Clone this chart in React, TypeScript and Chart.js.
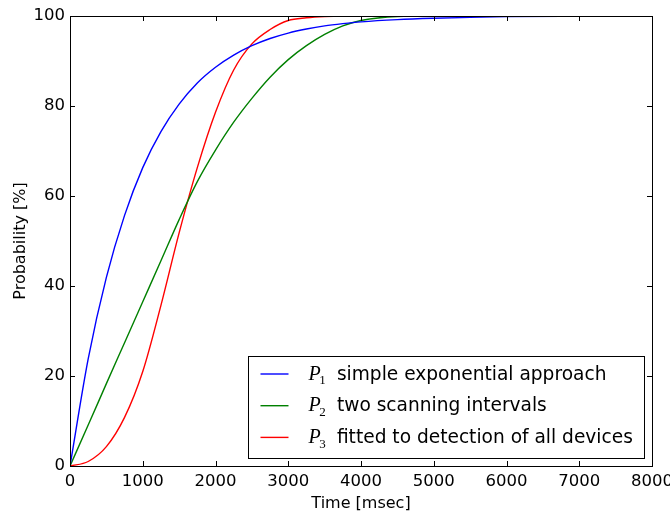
import React, { useEffect, useRef } from "react";
import { Chart, registerables } from "chart.js";

Chart.register(...registerables);

// Time axis samples (msec)
const timeMs = [0, 250, 500, 750, 1000, 1250, 1500, 1750, 2000, 2250, 2500, 2750, 3000, 3250, 3500, 3750, 4000, 4500, 5000, 5500, 6000, 7000, 8000];

// Detection probability [%] per model
const p1Exponential = [0, 23.8, 41.9, 55.7, 66.3, 74.3, 80.4, 85.1, 88.6, 91.3, 93.4, 95.0, 96.2, 97.1, 97.8, 98.3, 98.7, 99.2, 99.5, 99.7, 99.85, 99.95, 100];
const p2TwoIntervals = [0, 9.1, 18.3, 27.4, 36.5, 45.6, 54.75, 63.2, 70.2, 76.4, 81.7, 86.4, 90.3, 93.4, 95.9, 97.8, 99.0, 99.9, 100, 100, 100, 100, 100];
const p3Fitted = [0, 1.0, 4.3, 10.8, 21.0, 35.7, 51.8, 66.3, 78.6, 88.0, 93.8, 97.0, 99.0, 99.6, 99.9, 100, 100, 100, 100, 100, 100, 100, 100];

const xTickValues = [0, 1000, 2000, 3000, 4000, 5000, 6000, 7000, 8000];
const yTickValues = [0, 20, 40, 60, 80, 100];

const seriesSubscripts = ["1", "2", "3"];
const seriesNames = ["simple exponential approach", "two scanning intervals", "fitted to detection of all devices"];
const seriesColors = ["#0000ff", "#008000", "#ff0000"];
const seriesValues = [p1Exponential, p2TwoIntervals, p3Fitted];

const SANS = "'DejaVu Sans', sans-serif";

// Black frame around the plot with inward tick marks on all four sides
const frameTicksPlugin = {
  id: "frameTicks",
  afterDatasetsDraw(chart: any) {
    const { ctx, chartArea: a, scales } = chart;
    const len = 5;
    ctx.save();
    ctx.strokeStyle = "#000";
    ctx.lineWidth = 1;
    ctx.beginPath();
    for (const v of xTickValues) {
      const x = Math.round(scales.x.getPixelForValue(v)) + 0.5;
      ctx.moveTo(x, a.bottom);
      ctx.lineTo(x, a.bottom - len);
      ctx.moveTo(x, a.top);
      ctx.lineTo(x, a.top + len);
    }
    for (const v of yTickValues) {
      const y = Math.round(scales.y.getPixelForValue(v)) + 0.5;
      ctx.moveTo(a.left, y);
      ctx.lineTo(a.left + len, y);
      ctx.moveTo(a.right, y);
      ctx.lineTo(a.right - len, y);
    }
    ctx.stroke();
    ctx.strokeRect(Math.round(a.left) + 0.5, Math.round(a.top) + 0.5, Math.round(a.right - a.left), Math.round(a.bottom - a.top));
    ctx.restore();
  },
};

// Legend box in the lower right corner with math-style P labels
const legendPlugin = {
  id: "mathLegend",
  afterDraw(chart: any) {
    const { ctx, chartArea: a } = chart;
    ctx.save();
    const nameFont = `18.6px ${SANS}`;
    const pFont = "italic 20px 'Liberation Serif', serif";
    const subFont = "13px 'Liberation Serif', serif";
    const padL = 12.5;
    const lineLen = 28;
    const gap = 20;
    const textOff = 28.4;
    ctx.font = nameFont;
    let maxW = 0;
    for (const n of seriesNames) maxW = Math.max(maxW, ctx.measureText(n).width);
    const w = Math.round(padL + lineLen + gap + textOff + maxW + 11);
    const h = 102;
    const right = Math.round(a.right - 8.5);
    const bottom = Math.round(a.bottom - 8.5);
    const left = right - w;
    const top = bottom - h;
    ctx.fillStyle = "#fff";
    ctx.fillRect(left, top, w, h);
    ctx.strokeStyle = "#000";
    ctx.lineWidth = 1;
    ctx.strokeRect(left + 0.5, top + 0.5, w, h);
    const rowSpacing = 31.7;
    seriesNames.forEach((name, i) => {
      const ly = top + 18 + i * rowSpacing;
      ctx.strokeStyle = seriesColors[i];
      ctx.lineWidth = 1.4;
      ctx.beginPath();
      ctx.moveTo(left + padL, ly);
      ctx.lineTo(left + padL + lineLen, ly);
      ctx.stroke();
      const base = ly + 5.7;
      const px = left + padL + lineLen + gap;
      ctx.fillStyle = "#000";
      ctx.textBaseline = "alphabetic";
      ctx.textAlign = "left";
      ctx.font = pFont;
      ctx.fillText("P", px, base);
      const pw = ctx.measureText("P").width;
      ctx.font = subFont;
      ctx.fillText(seriesSubscripts[i], px + pw - 1.5, base + 4.5);
      ctx.font = nameFont;
      ctx.fillText(name, px + textOff, base);
    });
    ctx.restore();
  },
};

export default function App() {
  const canvasRef = useRef<HTMLCanvasElement | null>(null);

  useEffect(() => {
    const canvas = canvasRef.current;
    if (!canvas) return;
    const chart = new Chart(canvas, {
      type: "line",
      data: {
        datasets: seriesValues.map((vals, i) => ({
          label: seriesNames[i],
          data: timeMs.map((t, j) => ({ x: t, y: vals[j] })),
          borderColor: seriesColors[i],
          backgroundColor: seriesColors[i],
          borderWidth: 1.4,
          pointRadius: 0,
          cubicInterpolationMode: "monotone" as const,
          fill: false,
        })),
      },
      options: {
        responsive: false,
        animation: false,
        events: [],
        layout: { padding: { top: 16, right: 18, bottom: 0, left: 0 } },
        plugins: {
          legend: { display: false },
          tooltip: { enabled: false },
        },
        scales: {
          x: {
            type: "linear",
            min: 0,
            max: 8000,
            afterBuildTicks: (s: any) => {
              s.ticks = xTickValues.map((v) => ({ value: v }));
            },
            afterFit: (s: any) => {
              s.height = 47;
              s.paddingLeft = 0;
              s.paddingRight = 0;
            },
            grid: { display: false, drawTicks: false },
            border: { display: false },
            ticks: {
              padding: 6,
              color: "#000",
              font: { family: SANS, size: 16.5 },
              maxRotation: 0,
              callback: (v: any) => String(v),
            },
            title: {
              display: true,
              text: "Time [msec]",
              color: "#000",
              font: { family: SANS, size: 16 },
              padding: { top: 2, bottom: 0 },
            },
          },
          y: {
            type: "linear",
            min: 0,
            max: 100,
            afterBuildTicks: (s: any) => {
              s.ticks = yTickValues.map((v) => ({ value: v }));
            },
            afterFit: (s: any) => {
              s.width = 70;
              s.paddingTop = 0;
              s.paddingBottom = 0;
            },
            grid: { display: false, drawTicks: false },
            border: { display: false },
            ticks: {
              padding: 5,
              color: "#000",
              font: { family: SANS, size: 16.5 },
              callback: (v: any) => String(v),
            },
            title: {
              display: true,
              text: "Probability [%]",
              color: "#000",
              font: { family: SANS, size: 16 },
              padding: { top: 11, bottom: 0 },
            },
          },
        },
      },
      plugins: [frameTicksPlugin, legendPlugin],
    });
    return () => chart.destroy();
  }, []);

  return (
    <canvas
      ref={canvasRef}
      width={670}
      height={513}
      style={{ position: "absolute", left: 0, top: 0, display: "block" }}
    />
  );
}
